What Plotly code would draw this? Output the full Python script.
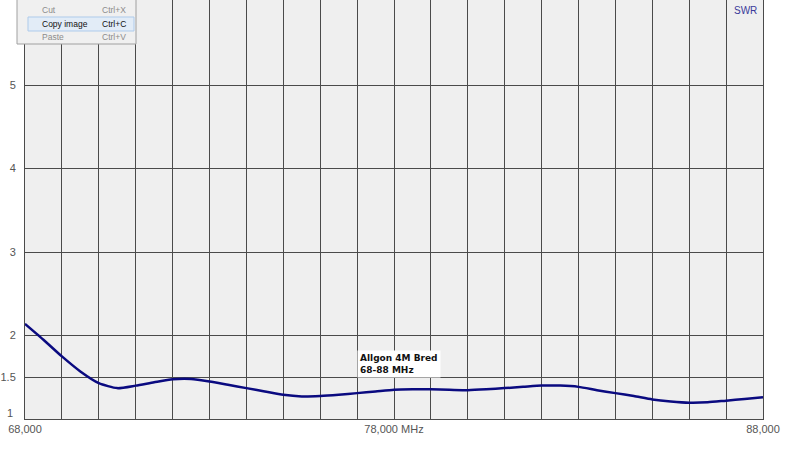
import plotly.graph_objects as go

# ---- data ----
freq_mhz = [68.0, 68.5, 69.0, 69.5, 70.0, 70.5, 71.0, 71.5, 72.0, 72.5, 73.0,
            73.5, 74.0, 74.5, 75.0, 75.5, 76.0, 76.5, 77.0, 77.5, 78.0, 78.5,
            79.0, 79.5, 80.0, 80.5, 81.0, 81.5, 82.0, 82.5, 83.0, 83.5, 84.0,
            84.5, 85.0, 85.5, 86.0, 86.5, 87.0, 87.5, 88.0]
swr = [2.14, 1.95, 1.75, 1.57, 1.43, 1.37, 1.40, 1.44, 1.476, 1.48, 1.45,
       1.41, 1.37, 1.33, 1.29, 1.27, 1.275, 1.29, 1.31, 1.33, 1.35, 1.355,
       1.355, 1.35, 1.345, 1.355, 1.37, 1.385, 1.40, 1.40, 1.385, 1.345, 1.31,
       1.275, 1.235, 1.21, 1.195, 1.20, 1.22, 1.24, 1.26]
x_tickvals = [68, 78, 88]
x_ticktext = ["68,000", "78,000 MHz", "88,000"]
y_tickvals = [1, 1.5, 2, 3, 4, 5]
y_ticktext = ["1", "1.5", "2", "3", "4", "5"]
menu_items = ["Cut", "Copy image", "Paste"]
menu_keys = ["Ctrl+X", "Ctrl+C", "Ctrl+V"]
menu_enabled = [False, True, False]
label_text = "<b>Allgon 4M Bred<br>68-88 MHz</b>"

W, H = 800, 458
ML, MR, MT, MB = 25, 37, 0, 39
PW, PH = W - ML - MR, H - MT - MB


def px(x):
    return (x - ML) / PW


def py(y):
    return (H - MB - y) / PH


GRID = "#4a4a4a"
fig = go.Figure()
fig.add_trace(go.Scatter(x=freq_mhz, y=swr, mode="lines",
                         line=dict(color="#0a0a80", width=2.5, shape="spline", smoothing=0.6),
                         hoverinfo="skip", showlegend=False))

# the lowest y label ("1") sits slightly raised, so it is drawn separately
fig.update_layout(
    width=W, height=H,
    margin=dict(l=ML, r=MR, t=MT, b=MB, autoexpand=False),
    paper_bgcolor="white", plot_bgcolor="#efefef",
    font=dict(family="Liberation Sans, Arial, sans-serif", size=11, color="#555"),
    xaxis=dict(range=[68, 88], tickvals=x_tickvals, ticktext=x_ticktext,
               showgrid=True, gridcolor=GRID, gridwidth=1,
               minor=dict(dtick=1, showgrid=True, gridcolor=GRID, gridwidth=1),
               showline=True, linecolor=GRID, linewidth=1, zeroline=False,
               ticks="", fixedrange=True, automargin=False),
    yaxis=dict(range=[1, 6.02], tickvals=y_tickvals[1:], ticktext=y_ticktext[1:],
               showgrid=True, gridcolor=GRID, gridwidth=1,
               showline=True, mirror=True, linecolor=GRID, linewidth=1,
               zeroline=False, ticks="", ticklabelstandoff=6, fixedrange=True,
               automargin=False),
)
fig.add_annotation(x=px(15), y=y_tickvals[0], xref="paper", yref="y",
                   text=y_ticktext[0], showarrow=False, xanchor="right",
                   yanchor="bottom", yshift=-2, font=dict(size=11, color="#555"))

# SWR label
fig.add_annotation(x=px(759), y=py(10), xref="paper", yref="paper",
                   text="SWR", showarrow=False, xanchor="right", yanchor="middle",
                   font=dict(size=10, color="#3a3a9a"))

# curve label box
fig.add_annotation(x=77.0, y=1.66, xref="x", yref="y", text=label_text,
                   showarrow=False, xanchor="left", yanchor="middle", align="left",
                   bgcolor="white", borderpad=2,
                   font=dict(family="DejaVu Sans, sans-serif", size=9, color="#111"))

# context menu
fig.add_shape(type="rect", xref="paper", yref="paper",
              x0=px(17), x1=px(136), y0=py(44), y1=py(-2),
              fillcolor="#f0f0f0", line=dict(color="#a0a0a0", width=1), layer="above")
fig.add_shape(type="rect", xref="paper", yref="paper",
              x0=px(28), x1=px(134), y0=py(31), y1=py(17),
              fillcolor="#e2ecf7", line=dict(color="#aecbeb", width=1), layer="above")
row_y = [10, 24, 37]
for item, key, en, yy in zip(menu_items, menu_keys, menu_enabled, row_y):
    col = "#111" if en else "#8c8c8c"
    fig.add_annotation(x=px(40), y=py(yy), xref="paper", yref="paper", text=item,
                       showarrow=False, xanchor="left", yanchor="middle",
                       font=dict(size=8.5, color=col))
    fig.add_annotation(x=px(100), y=py(yy), xref="paper", yref="paper", text=key,
                       showarrow=False, xanchor="left", yanchor="middle",
                       font=dict(size=8.5, color=col))

fig.write_html("out.html", config={"displayModeBar": False, "staticPlot": True},
               post_script="document.body.style.margin='0';document.body.style.overflow='hidden';")
